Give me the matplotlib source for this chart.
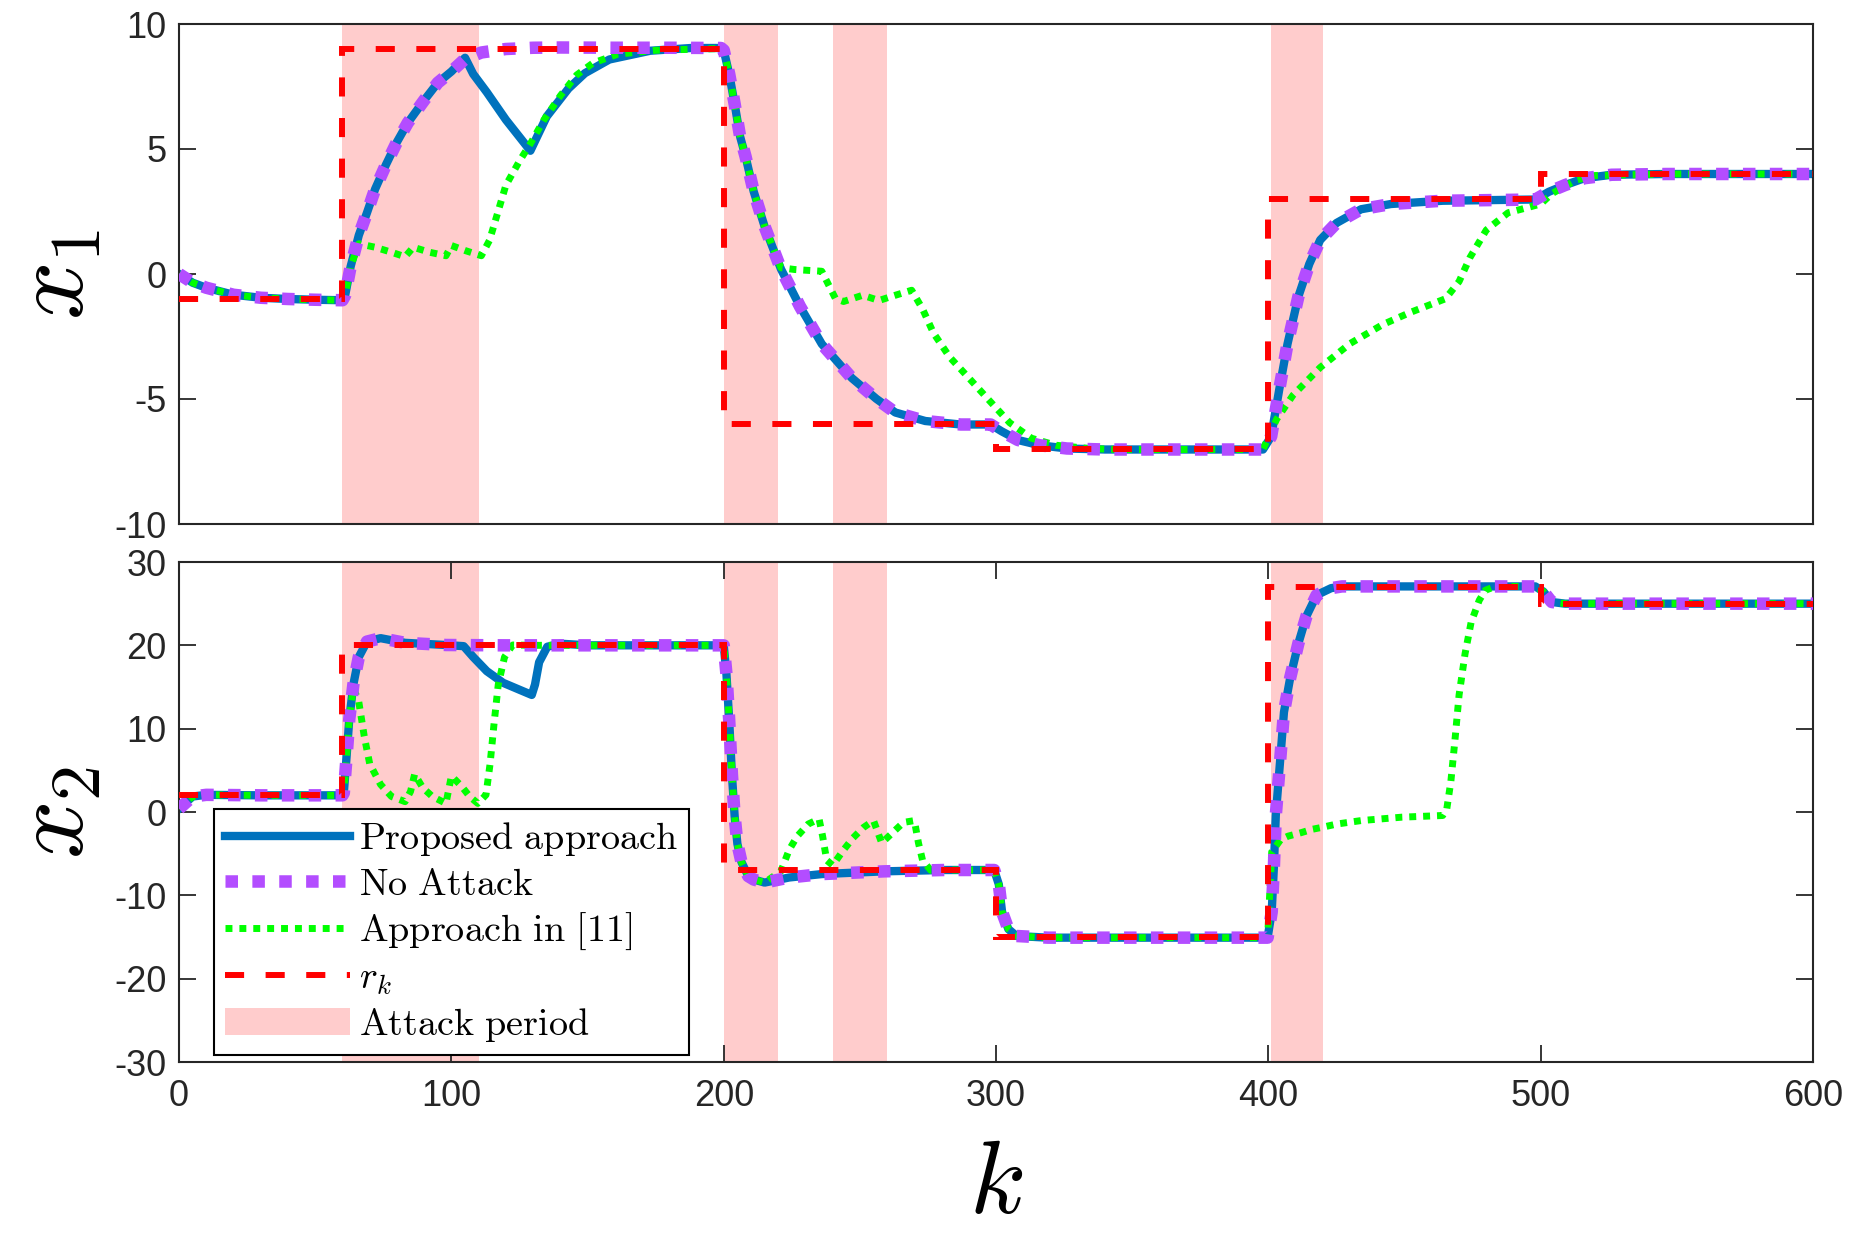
import numpy as np
import matplotlib
matplotlib.use("Agg")
from matplotlib import pyplot as plt
from matplotlib.lines import Line2D
from matplotlib.patches import Patch

plt.rcParams['font.family'] = ['Liberation Sans', 'DejaVu Sans']
plt.rcParams['mathtext.fontset'] = 'cm'
plt.rcParams['axes.unicode_minus'] = False

# Colours / styles
BLUE = '#0072BD'
PURPLE = '#B34DFF'
GREEN = '#00FF00'
RED = '#FF0000'
SHADE = '#FFCCCC'
AXCOL = '#262626'

# ---------------- data ----------------
# attack periods
attack_start = [60, 200, 240, 401]
attack_end = [110, 220, 260, 420]

# reference r_k (piecewise constant)
r_edges = [0, 60, 200, 300, 400, 500, 600]
r1_vals = [-1, 9, -6, -7, 3, 4]
r2_vals = [2, 20, -7, -15, 27, 25]

# x1, no attack
k1_na = [0, 5, 10, 20, 30, 40, 50, 60, 61, 63, 66, 69, 72, 76, 80, 84, 90, 95, 100, 105,
         111, 120, 130, 140, 160, 180, 199, 200, 202, 204, 206, 208, 211, 215, 221, 228,
         236, 247, 256, 263, 274, 287, 298, 302, 308, 316, 326, 340, 398, 401, 404, 407,
         411, 415, 419, 425, 434, 445, 464, 498, 503, 509, 516, 526, 546, 600]
x1_na = [0, -0.35, -0.55, -0.83, -0.95, -1.0, -1.03, -1.05, -0.85, 0.3, 1.55, 2.45, 3.4,
         4.38, 5.28, 6.05, 6.95, 7.65, 8.1, 8.6, 8.86, 9.0, 9.05, 9.06, 9.05, 9.05, 9.04,
         8.95, 8.0, 6.8, 5.5, 4.7, 3.3, 1.9, 0.2, -1.3, -2.8, -4.16, -4.99, -5.54, -5.88,
         -6.02, -6.02, -6.29, -6.64, -6.85, -6.98, -7.02, -7.02, -6.5, -4.6, -2.8, -0.9,
         0.4, 1.36, 2.04, 2.59, 2.8, 2.93, 2.98, 3.29, 3.56, 3.83, 3.97, 4.0, 4.0]

# x1, proposed approach
k1_pr = [0, 5, 10, 20, 30, 40, 50, 60, 61, 63, 66, 69, 72, 76, 80, 84, 90, 95, 100, 105,
         108, 113, 120, 129, 135, 143, 149, 158, 173, 188, 199, 200, 202, 204, 206, 208,
         211, 215, 221, 228, 236, 247, 256, 263, 274, 287, 298, 302, 308, 316, 326, 340,
         398, 401, 404, 407, 411, 415, 419, 425, 434, 445, 464, 498, 503, 509, 516, 526,
         546, 600]
x1_pr = [0, -0.35, -0.55, -0.83, -0.95, -1.0, -1.03, -1.05, -0.85, 0.3, 1.55, 2.45, 3.4,
         4.38, 5.28, 6.05, 6.95, 7.65, 8.1, 8.65, 8.0, 7.27, 6.17, 4.93, 6.3, 7.42, 8.03,
         8.58, 8.93, 9.04, 9.04, 8.95, 8.0, 6.8, 5.5, 4.7, 3.3, 1.9, 0.2, -1.3, -2.8,
         -4.16, -4.99, -5.54, -5.88, -6.02, -6.02, -6.29, -6.64, -6.85, -6.98, -7.02,
         -7.02, -6.5, -4.6, -2.8, -0.9, 0.4, 1.36, 2.04, 2.59, 2.8, 2.93, 2.98, 3.29,
         3.56, 3.83, 3.97, 4.0, 4.0]

# x1, approach in [11]
k1_ref = [0, 5, 10, 20, 30, 40, 50, 60, 61, 63, 66, 72, 78, 83, 86, 92, 98, 100, 105, 111,
          114, 117, 120, 125, 129, 134, 140, 146, 152, 161, 175, 199, 200, 202, 204, 206,
          208, 211, 215, 221, 226, 236, 241, 244, 251, 257, 263, 269, 273, 277, 283, 290,
          298, 305, 313, 322, 334, 345, 398, 403, 409, 419, 430, 442, 452, 465, 470, 474,
          480, 488, 500, 504, 513, 520, 546, 600]
x1_ref = [0, -0.35, -0.55, -0.83, -0.95, -1.0, -1.03, -1.05, -0.85, 0.3, 1.21, 1.07, 0.87,
          0.69, 1.07, 0.87, 0.73, 1.14, 0.94, 0.73, 1.35, 2.45, 3.55, 4.52, 5.21, 6.17,
          7.13, 7.96, 8.44, 8.79, 8.95, 9.02, 8.95, 8.0, 6.8, 5.5, 4.7, 3.3, 1.9, 0.25,
          0.18, 0.11, -0.98, -1.1, -0.85, -1.06, -0.85, -0.65, -1.4, -2.36, -3.33, -4.16,
          -5.12, -5.95, -6.57, -6.85, -6.98, -7.02, -7.02, -5.81, -4.85, -3.74, -2.78,
          -2.02, -1.54, -0.99, -0.3, 0.66, 1.76, 2.45, 2.8, 3.21, 3.76, 3.94, 4.0, 4.0]

# x2, no attack
k2_na = [0, 5, 10, 30, 60, 60.5, 61.5, 62.5, 64, 66, 69, 74, 83, 98, 120, 199, 200, 201,
         202, 203, 204, 205, 206.5, 209, 211, 215, 224, 236, 259, 281, 299.3, 301, 302.2,
         304.5, 307.5, 319, 399.7, 401.2, 402, 402.7, 404.2, 405.7, 408, 411, 414, 417.7,
         423, 427, 498, 501, 504, 509, 600]
x2_na = [0.4, 1.86, 2.06, 2.0, 2.0, 2.3, 6.6, 11.15, 15.3, 18.6, 20.45, 20.86, 20.3, 20.04,
         20.0, 20.0, 20.0, 16.5, 11.0, 4.5, -0.5, -3.8, -6.0, -7.7, -8.1, -8.47, -7.86,
         -7.45, -7.12, -6.96, -6.96, -8.69, -12.0, -14.05, -14.88, -15.08, -15.08, -12.0,
         -6.6, -0.42, 5.78, 11.98, 16.12, 20.24, 23.54, 26.03, 26.86, 27.07, 27.07, 26.44,
         25.2, 25.0, 25.0]

# x2, proposed approach
k2_pr = [0, 5, 10, 30, 60, 60.5, 61.5, 62.5, 64, 66, 69, 74, 83, 98, 104.5, 108, 113, 119,
         125, 129.5, 130.7, 132.2, 135.2, 140, 150, 199, 200, 201, 202, 203, 204, 205,
         206.5, 209, 211, 215, 224, 236, 259, 281, 299.3, 301, 302.2, 304.5, 307.5, 319,
         399.7, 401.2, 402, 402.7, 404.2, 405.7, 408, 411, 414, 417.7, 423, 427, 498, 501,
         504, 509, 600]
x2_pr = [0.4, 1.86, 2.06, 2.0, 2.0, 2.3, 6.6, 11.15, 15.3, 18.6, 20.45, 20.86, 20.3, 20.04,
         19.9, 18.6, 16.9, 15.5, 14.67, 14.05, 15.3, 17.97, 19.83, 20.2, 20.0, 20.0, 20.0,
         16.5, 11.0, 4.5, -0.5, -3.8, -6.0, -7.7, -8.1, -8.47, -7.86, -7.45, -7.12, -6.96,
         -6.96, -8.69, -12.0, -14.05, -14.88, -15.08, -15.08, -12.0, -6.6, -0.42, 5.78,
         11.98, 16.12, 20.24, 23.54, 26.03, 26.86, 27.07, 27.07, 26.44, 25.2, 25.0, 25.0]

# x2, approach in [11]
k2_ref = [0, 5, 10, 30, 60, 60.5, 61.5, 62.5, 64, 66, 68, 70, 74, 78, 83, 85, 86.5, 89.5,
          93, 98, 100, 103.7, 106.7, 109.7, 112.7, 114.2, 115.7, 117.2, 119.5, 122.5, 130,
          199, 200, 201, 202, 203, 204, 205, 206.5, 209, 211, 215, 221, 224, 227, 231, 235,
          236.3, 237.8, 240, 244, 247.5, 251.3, 255, 258, 262, 266, 270, 271.5, 273, 276,
          281, 299.3, 301, 302.2, 304.5, 307.5, 319, 399.7, 401.2, 404.5, 407.2, 412, 416,
          419.4, 425, 434, 449, 464, 465.5, 467, 468.5, 470, 472.2, 474.4, 477.4, 479.6,
          483.3, 498, 501, 504, 509, 600]
x2_ref = [0.4, 1.86, 2.06, 2.0, 2.0, 2.3, 6.6, 11.15, 14.9, 13.2, 9.09, 5.78, 3.3, 1.86,
          1.24, 2.47, 4.54, 2.9, 1.86, 1.03, 4.33, 3.1, 1.86, 1.03, 2.06, 5.78, 10.74,
          15.28, 18.59, 20.04, 20.0, 20.0, 20.0, 16.5, 11.0, 4.5, -0.5, -3.8, -6.0, -7.7,
          -8.1, -8.47, -7.1, -4.55, -2.9, -1.45, -0.83, -2.9, -5.79, -6.4, -4.55, -3.1,
          -1.86, -1.03, -3.72, -2.48, -1.25, -1.03, -3.72, -5.79, -7.0, -6.96, -6.96,
          -8.69, -12.0, -14.05, -14.88, -15.08, -15.08, -4.8, -3.31, -2.9, -2.48, -2.08,
          -1.86, -1.45, -1.03, -0.62, -0.42, 0.4, 3.72, 8.68, 14.04, 19.0, 22.73, 25.4,
          26.6, 27.07, 27.07, 26.44, 25.2, 25.0, 25.0]

# ---------------- figure ----------------
fig = plt.figure(figsize=(18.75, 12.5), dpi=100)
ax1 = fig.add_axes([0.0955, 0.5808, 0.8715, 0.4])
ax2 = fig.add_axes([0.0955, 0.1504, 0.8715, 0.4])

LW_BLUE, LW_PURPLE, LW_GREEN, LW_RED = 6, 9, 5, 4.3
purple_ls = (0, (1.0, 1.15))
green_ls = (0, (1.0, 1.0))
red_ls = (0, (3.2, 3.6))


def draw(ax, k_pr, v_pr, k_na, v_na, k_ref, v_ref, r_vals):
    for a, b in zip(attack_start, attack_end):
        ax.axvspan(a, b, color=SHADE, lw=0, zorder=0)
    ax.plot(k_pr, v_pr, color=BLUE, lw=LW_BLUE, zorder=2)
    ax.plot(k_ref, v_ref, color=GREEN, lw=LW_GREEN, ls=green_ls, zorder=3)
    ax.plot(k_na, v_na, color=PURPLE, lw=LW_PURPLE, ls=purple_ls, zorder=4)
    ax.stairs(r_vals, r_edges, color=RED, lw=LW_RED, ls=red_ls, zorder=5, baseline=None)
    ax.set_xlim(0, 600)
    for s in ax.spines.values():
        s.set_color(AXCOL)
        s.set_linewidth(1.5)


draw(ax1, k1_pr, x1_pr, k1_na, x1_na, k1_ref, x1_ref, r1_vals)
draw(ax2, k2_pr, x2_pr, k2_na, x2_na, k2_ref, x2_ref, r2_vals)

# top axes
ax1.set_ylim(-10, 10)
ax1.set_yticks([-10, -5, 0, 5, 10])
ax1.set_xticks([])
ax1.tick_params(axis='y', direction='in', length=12, width=1.3, right=True,
                labelsize=26, pad=9, colors=AXCOL)
ax1.set_ylabel(r'$x_1$', fontsize=74)
ax1.yaxis.set_label_coords(-0.045, 0.5)

# bottom axes
ax2.set_ylim(-30, 30)
ax2.set_yticks([-30, -20, -10, 0, 10, 20, 30])
ax2.set_xticks([0, 100, 200, 300, 400, 500, 600])
ax2.tick_params(direction='in', length=12, width=1.3, right=True, top=True,
                labelsize=26, colors=AXCOL)
ax2.tick_params(axis='y', pad=9)
ax2.tick_params(axis='x', pad=12)
ax2.set_ylabel(r'$x_2$', fontsize=74)
ax2.yaxis.set_label_coords(-0.045, 0.5)
ax2.set_xlabel(r'$k$', fontsize=74)
ax2.xaxis.set_label_coords(0.5, -0.152)

# legend
handles = [
    Line2D([], [], color=BLUE, lw=LW_BLUE),
    Line2D([], [], color=PURPLE, lw=LW_PURPLE, ls=purple_ls),
    Line2D([], [], color=GREEN, lw=LW_GREEN, ls=green_ls),
    Line2D([], [], color=RED, lw=LW_RED, ls=red_ls),
    Patch(facecolor=SHADE, edgecolor='none'),
]
labels = [r'$\mathrm{Proposed\ approach}$', r'$\mathrm{No\ Attack}$',
          r'$\mathrm{Approach\ in\ [11]}$', r'$r_k$', r'$\mathrm{Attack\ period}$']
leg = ax2.legend(handles, labels, loc='lower left', bbox_to_anchor=(0.0214, 0.014),
                 borderaxespad=0, fontsize=27.5, handlelength=3.25, handletextpad=0.25,
                 labelspacing=0.22, fancybox=False, framealpha=1, borderpad=0.3)
leg.get_frame().set_edgecolor('black')
leg.get_frame().set_linewidth(1.5)

fig.savefig('out.png', dpi=100)
